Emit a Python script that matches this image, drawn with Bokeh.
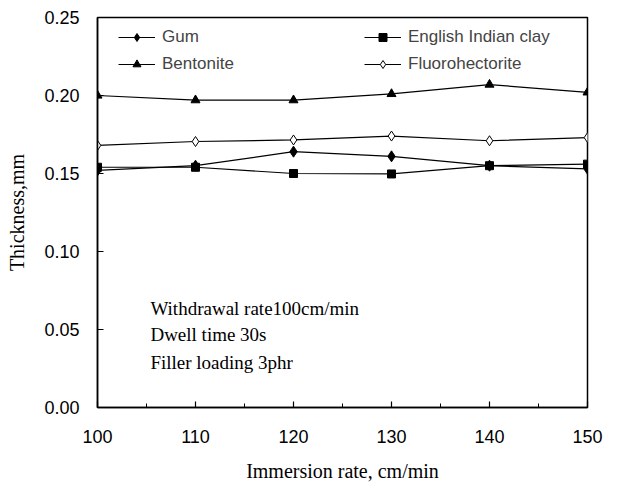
from bokeh.plotting import figure
from bokeh.models import FixedTicker, Legend, LegendItem, Label, Range1d, NumeralTickFormatter
from bokeh.embed import file_html
from bokeh.resources import INLINE

x = [100, 110, 120, 130, 140, 150]
gum = [0.152, 0.155, 0.164, 0.161, 0.155, 0.153]
english = [0.154, 0.154, 0.150, 0.1497, 0.155, 0.156]
bentonite = [0.200, 0.197, 0.197, 0.201, 0.207, 0.202]
fluoro = [0.168, 0.1705, 0.1715, 0.174, 0.171, 0.173]
y_ticks = [0.0, 0.05, 0.10, 0.15, 0.20, 0.25]
x_ticks = [100, 110, 120, 130, 140, 150]
x_minor = [105, 115, 125, 135, 145]
notes = ["Withdrawal rate100cm/min", "Dwell time 30s", "Filler loading 3phr"]

p = figure(width=604, height=484, output_backend="svg", toolbar_location=None,
           x_range=Range1d(100, 150), y_range=Range1d(0, 0.25),
           min_border_left=97, min_border_right=17, min_border_top=17, min_border_bottom=72)
p.xgrid.visible = False
p.ygrid.visible = False
p.outline_line_color = "black"
p.outline_line_width = 1.5

r1 = p.line(x, gum, line_color="black", line_width=1.2)
s1 = p.scatter(x, gum, marker="diamond", size=11, color="black")
r2 = p.line(x, english, line_color="black", line_width=1.2)
s2 = p.scatter(x, english, marker="square", size=8, color="black")
r3 = p.line(x, bentonite, line_color="black", line_width=1.2)
s3 = p.scatter(x, bentonite, marker="triangle", size=9, color="black")
r4 = p.line(x, fluoro, line_color="black", line_width=1.2)
s4 = p.scatter(x, fluoro, marker="diamond", size=10, fill_color="white", line_color="black")

legend = Legend(items=[
    LegendItem(label="Gum", renderers=[r1, s1]),
    LegendItem(label="Bentonite", renderers=[r3, s3]),
    LegendItem(label="English Indian clay", renderers=[r2, s2]),
    LegendItem(label="Fluorohectorite", renderers=[r4, s4]),
], ncols=2, location=(21, 333), border_line_color=None, background_fill_alpha=0,
    label_text_font="Liberation Sans", label_text_font_size="17px",
    glyph_width=37, label_width=195, label_standoff=7, spacing=7, padding=4,
    margin=0, label_height=20, glyph_height=20)
p.add_layout(legend)

for ax in (p.xaxis[0], p.yaxis[0]):
    ax.major_label_text_font = "Liberation Sans"
    ax.major_label_text_font_size = "18px"
    ax.major_label_text_color = "black"
    ax.axis_label_text_font = "Liberation Serif"
    ax.axis_label_text_font_size = "20px"
    ax.axis_label_text_font_style = "normal"
    ax.axis_label_text_color = "black"
    ax.axis_line_width = 1.5
    ax.axis_line_color = "black"
    ax.major_tick_in = 6
    ax.major_tick_out = 0
    ax.minor_tick_in = 4
    ax.minor_tick_out = 0
    ax.major_tick_line_width = 1.2
    ax.major_tick_line_color = "black"
    ax.minor_tick_line_color = "black"

p.xaxis.ticker = FixedTicker(ticks=x_ticks, minor_ticks=x_minor)
p.yaxis.ticker = FixedTicker(ticks=y_ticks, minor_ticks=[])
p.yaxis.formatter = NumeralTickFormatter(format="0.00")
p.xaxis.axis_label = "Immersion rate, cm/min"
p.yaxis.axis_label = "Thickness,mm"
p.xaxis.major_label_standoff = 22
p.yaxis.major_label_standoff = 18
p.xaxis.axis_label_standoff = 14
p.yaxis.axis_label_standoff = 13

ys = [0.0633, 0.0468, 0.0291]
for t, yy in zip(notes, ys):
    p.add_layout(Label(x=105.4, y=yy, text=t, text_font="Liberation Serif",
                       text_font_size="19px", text_baseline="middle", text_color="black"))

open("out.html", "w").write(file_html(p, INLINE))
